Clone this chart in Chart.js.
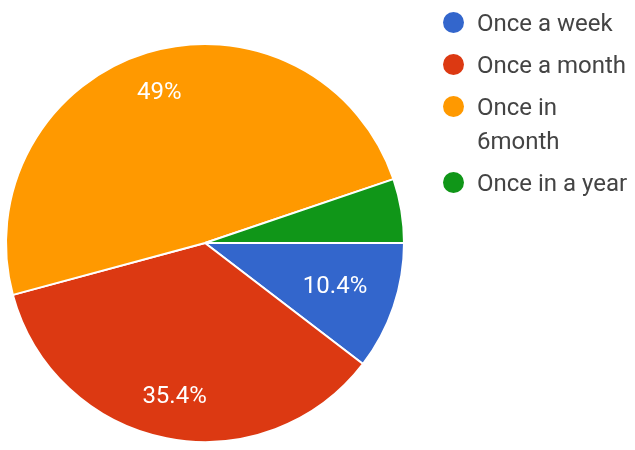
<!DOCTYPE html>
<html>
<head>
<meta charset="utf-8">
<script src="https://cdn.jsdelivr.net/npm/chart.js@4"></script>
<style>
  body { margin: 0; background: #fff; }
  #wrap { position: relative; width: 635px; height: 450px; }
  #legend { position: absolute; left: 443px; top: 6px; margin: 0; padding: 0; list-style: none;
            font-family: Roboto, sans-serif; font-size: 24px; line-height: 34px; color: #444; }
  #legend li { position: relative; padding-left: 34px; margin-bottom: 8px; }
  #legend span.dot { position: absolute; left: 0; top: 6px; width: 21px; height: 21px; border-radius: 50%; }
</style>
</head>
<body>
<div id="wrap">
  <canvas id="pieChart" width="635" height="450"></canvas>
  <ul id="legend"></ul>
</div>
<script>
const categories = ["Once a week", "Once a month", ["Once in", "6month"], "Once in a year"];
const shares = [10.4, 35.4, 49, 5.2];
const colors = ["#3366cc", "#dc3912", "#ff9900", "#109618"];

// percentage text inside the slices
const sliceLabels = {
  id: 'sliceLabels',
  afterDatasetsDraw(chart) {
    const ctx = chart.ctx;
    const meta = chart.getDatasetMeta(0);
    const total = shares.reduce((a, b) => a + b, 0);
    ctx.save();
    ctx.font = '24px Roboto, sans-serif';
    ctx.fillStyle = '#fff';
    ctx.textAlign = 'center';
    ctx.textBaseline = 'middle';
    meta.data.forEach((arc, i) => {
      const frac = shares[i] / total;
      if (frac < 0.06) return;
      const p = arc.getProps(['x', 'y', 'startAngle', 'endAngle', 'outerRadius'], true);
      const mid = (p.startAngle + p.endAngle) / 2;
      const r = p.outerRadius * (frac < 0.15 ? 0.69 : 0.79);
      const txt = parseFloat((frac * 100).toFixed(1)) + '%';
      ctx.fillText(txt, p.x + Math.cos(mid) * r, p.y + Math.sin(mid) * r);
    });
    ctx.restore();
  }
};

const chart = new Chart(document.getElementById('pieChart'), {
  type: 'pie',
  data: {
    labels: categories,
    datasets: [{
      data: shares,
      backgroundColor: colors,
      borderColor: '#fff',
      borderWidth: 2
    }]
  },
  options: {
    responsive: false,
    animation: false,
    rotation: 90,
    layout: { padding: { left: 5, right: 230, top: 43, bottom: 7 } },
    plugins: { legend: { display: false }, tooltip: { enabled: false } }
  },
  plugins: [sliceLabels]
});

// legend in html, built from the chart's own legend items
const items = Chart.overrides.pie.plugins.legend.labels.generateLabels(chart);
document.getElementById('legend').innerHTML = items.map(it => {
  const text = Array.isArray(it.text) ? it.text.join('<br>') : it.text;
  return '<li><span class="dot" style="background:' + it.fillStyle + '"></span>' + text + '</li>';
}).join('');
</script>
</body>
</html>
